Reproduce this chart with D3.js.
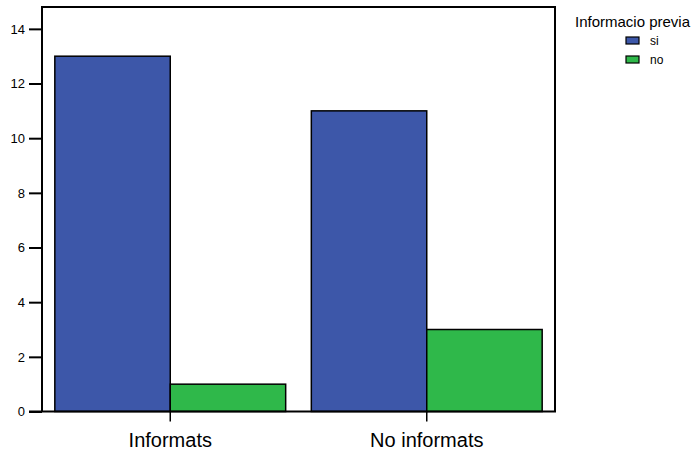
<!DOCTYPE html>
<html>
<head>
<meta charset="utf-8">
<script src="https://cdn.jsdelivr.net/npm/d3@7"></script>
<style>
  html, body { margin: 0; padding: 0; background: #fff; }
  svg { display: block; font-family: "Liberation Sans", Arial, sans-serif; }
</style>
</head>
<body>
<svg id="chart" width="696" height="450"></svg>
<script>
// Recompte per grup i per informacio previa
const categories = ["Informats", "No informats"];
const seriesNames = ["si", "no"];
const siValues = [13, 11];
const noValues = [1, 3];
const yTicks = [0, 2, 4, 6, 8, 10, 12, 14];
const legendTitle = "Informacio previa";
const colors = ["#3d57a9", "#2fb84a"];

const rows = categories.map((c, i) => ({ cat: c, values: [siValues[i], noValues[i]] }));

const svg = d3.select("#chart");
const plotLeft = 42, plotRight = 555, plotTop = 7, plotBottom = 411.5;

const x = d3.scaleBand().domain(categories).range([plotLeft, plotRight])
  .paddingInner(0.1).paddingOuter(0.05);
const xs = d3.scaleBand().domain(seriesNames).range([0, x.bandwidth()]);
const y = d3.scaleLinear().domain([0, 14.8]).range([plotBottom, plotTop]);

// Bars
const groups = svg.append("g").selectAll("g").data(rows).join("g")
  .attr("transform", d => `translate(${x(d.cat)},0)`);
groups.selectAll("rect").data(d => d.values.map((v, j) => ({ s: seriesNames[j], v, j })))
  .join("rect")
  .attr("x", d => xs(d.s))
  .attr("width", xs.bandwidth())
  .attr("y", d => y(d.v))
  .attr("height", d => y(0) - y(d.v))
  .attr("fill", d => colors[d.j])
  .attr("stroke", "#000")
  .attr("stroke-width", 1.5);

// Frame
svg.append("path")
  .attr("d", `M${plotLeft},${plotBottom} V${plotTop} H${plotRight} V${plotBottom}`)
  .attr("fill", "none").attr("stroke", "#000").attr("stroke-width", 2);
svg.append("line")
  .attr("x1", 29).attr("x2", plotRight + 1).attr("y1", plotBottom).attr("y2", plotBottom)
  .attr("stroke", "#000").attr("stroke-width", 2);

// Y axis
const yAxis = d3.axisLeft(y).tickValues(yTicks).tickSize(13).tickPadding(4).tickSizeOuter(0);
const ya = svg.append("g").attr("transform", `translate(${plotLeft},0)`).call(yAxis);
ya.select(".domain").remove();
ya.selectAll(".tick line").attr("stroke", "#000").attr("stroke-width", 2);
ya.selectAll(".tick text").attr("font-size", 13).attr("fill", "#000")
  .attr("font-family", "Liberation Sans, Arial, sans-serif");

// X axis
const xAxis = d3.axisBottom(x).tickSize(10).tickPadding(11).tickSizeOuter(0);
const xa = svg.append("g").attr("transform", `translate(0,${plotBottom})`).call(xAxis);
xa.select(".domain").remove();
xa.selectAll(".tick line").attr("stroke", "#000").attr("stroke-width", 1.5);
xa.selectAll(".tick text").attr("font-size", 20).attr("fill", "#000")
  .attr("font-family", "Liberation Sans, Arial, sans-serif");

// Legend
const lg = svg.append("g");
lg.append("text").attr("x", 632.5).attr("y", 27).attr("text-anchor", "middle")
  .attr("font-size", 15).attr("fill", "#000").text(legendTitle);
const items = lg.selectAll("g.item").data(seriesNames).join("g").attr("class", "item")
  .attr("transform", (d, i) => `translate(626,${37 + i * 19})`);
items.append("rect").attr("width", 13).attr("height", 7)
  .attr("fill", (d, i) => colors[i]).attr("stroke", "#000").attr("stroke-width", 1.2);
items.append("text").attr("x", 24).attr("y", 8).attr("font-size", 12).attr("fill", "#000")
  .text(d => d);
</script>
</body>
</html>
